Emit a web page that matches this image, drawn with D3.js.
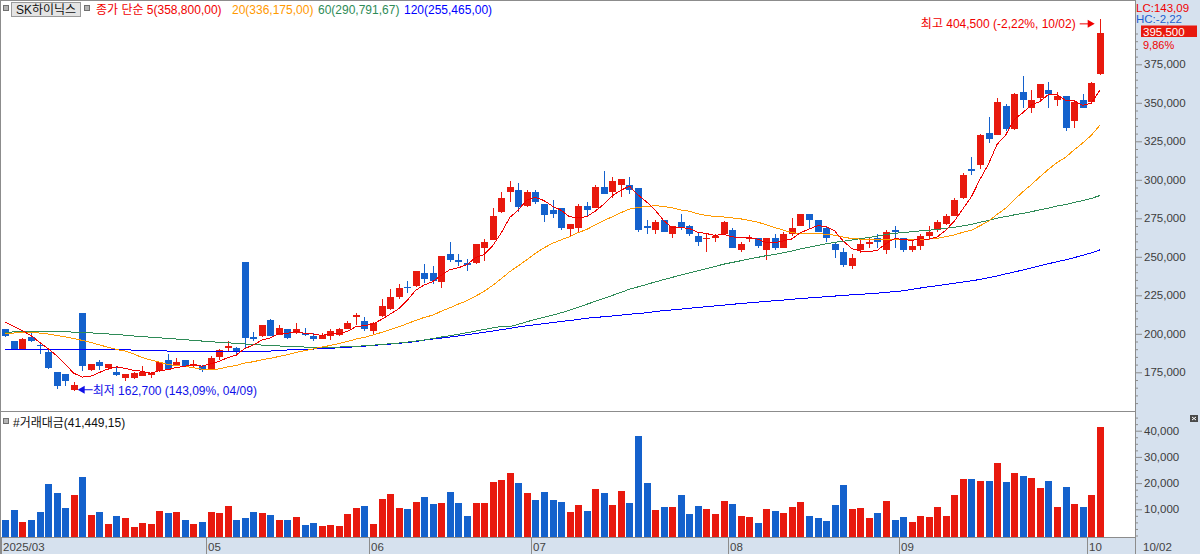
<!DOCTYPE html>
<html>
<head>
<meta charset="utf-8">
<script src="https://cdn.jsdelivr.net/npm/d3@7"></script>
<style>
  html, body { margin: 0; padding: 0; background: #fff; }
  svg { display: block; font-family: "Liberation Sans", "Noto Sans CJK KR", sans-serif; }
</style>
</head>
<body>
<svg id="chart"></svg>
<script>
// Daily candles, 2025/03/28 .. 2025/10/02 (129 trading days)
const opens = [
  202800,195200,190300,197600,193000,188100,174900,173600,163400,213800,
  176200,181800,177900,174900,171200,171400,172500,173600,175700,183300,
  179900,182700,179200,179400,177000,184800,190500,190900,246300,198200,
  198400,209100,199100,202800,200400,200800,198400,196500,198400,199400,
  203400,211700,208000,201500,211400,215800,223800,230700,230900,239200,
  239200,233500,252100,248200,245800,245800,255600,261200,278800,291900,
  293100,282900,292400,284000,280100,281400,267900,268600,282700,282000,
  295600,291800,296900,296900,294400,270300,267700,273600,265100,272900,
  270300,263800,261400,262100,264500,267700,254700,261400,261900,254700,
  261900,256000,265100,270300,277500,273600,269000,258600,253400,243900,
  254700,258000,261900,254100,267100,261900,254100,257300,263200,267100,
  271000,276800,287900,307300,309300,330100,329400,347600,332700,356700,
  346300,353400,358600,352100,354100,337900,351500,350800,368400
];
const highs = [
  203000,195600,197400,201000,193200,189200,174900,173600,169000,213800,
  180500,183300,180700,178300,174200,175100,179400,174900,182000,186600,
  184000,183300,183300,179600,185300,190000,195200,191300,246300,201000,
  206000,209300,206000,203200,207100,203900,200600,200400,202800,203600,
  208600,213800,210600,207500,222500,229400,232500,234000,240500,245600,
  244200,250800,259300,251500,248700,258000,261700,282000,292400,299500,
  298200,293700,293700,284200,286600,282000,271200,284000,285300,296300,
  306000,301500,300800,301500,295000,274200,273600,274200,270300,278100,
  270500,266400,264500,265100,273200,269000,259300,264000,262500,262100,
  265100,266400,275500,278100,277800,273800,269700,258800,256000,251500,
  260600,262500,264700,267100,269700,262100,260600,264500,270300,274200,
  278100,287900,304100,314500,329600,340500,353400,349500,356300,367100,
  358000,362500,363200,357300,354700,350400,356000,363200,404500
];
const lows = [
  197800,189400,190000,194400,187000,177300,164000,166400,162700,175700,
  175700,176200,176200,172700,169200,170800,172300,171400,175500,176200,
  179500,178300,177900,175100,176800,182700,188100,185700,190300,195600,
  198200,198500,198900,196800,200000,198400,195200,196300,196100,198400,
  203200,206000,201500,200000,211200,215600,222900,226200,230700,233100,
  232500,229600,246500,244200,240600,245600,247100,261000,278500,285300,
  279400,282600,284200,272900,275500,267700,263200,265300,276400,281800,
  290600,287900,288700,291100,266400,264900,265100,265800,262500,267700,
  263800,257300,252800,259300,264300,255400,252800,259300,255800,248200,
  254100,255800,263800,270000,269000,265800,259900,249500,243700,242400,
  252400,256000,256000,251500,255400,253400,253400,254700,261200,265800,
  270800,276200,287600,302800,307300,323600,329200,332000,332500,346900,
  343700,351500,346900,348200,331400,333900,346300,350500,368000
];
const closes = [
  198400,189600,196800,195600,192200,177900,166400,169200,166600,179400,
  180500,178800,180700,173400,174200,174400,175500,174400,182000,177000,
  181800,179400,180500,176200,184400,189800,191900,188300,197400,196500,
  205400,198700,203900,197100,202800,199100,196500,199400,201500,203400,
  206700,212100,202800,206900,218200,223600,229600,229600,240500,235300,
  234600,250200,247800,246500,245200,258000,259900,276200,287900,295600,
  282200,292400,285300,277000,277500,269000,271000,282700,280100,295600,
  291100,298900,300200,293700,267100,268400,272300,266400,269700,268400,
  265100,259900,262500,263200,272900,256000,258600,262500,257300,261900,
  255400,264500,269000,277500,273600,266400,261900,254700,244400,249500,
  258000,259900,259300,266400,265800,254700,257300,263800,265800,272900,
  276800,286600,303400,305400,329400,326800,350200,333300,356000,351500,
  351500,361900,356000,354700,333900,350200,346900,363000,395500
];
// 거래대금
const volumes = [
  5900,9700,5200,5900,9000,19700,16200,10500,15500,22300,
  7800,9000,4400,7400,6700,3200,4800,4400,9400,8600,
  9000,5900,4400,5200,9000,8600,11300,5900,6700,9000,
  8600,7800,5900,5900,7100,4000,4800,3600,4000,3600,
  8200,10500,11300,4400,13900,15800,10500,10100,12800,14700,
  12000,12400,16600,12400,7400,12400,12400,20400,21200,23900,
  20000,16200,13500,16600,13500,12800,9000,11600,9400,17700,
  16200,11600,17000,12400,38000,20000,9700,10900,10900,15500,
  8200,11300,10100,8200,13200,12000,7400,7100,4800,10100,
  9400,8600,10900,12800,7400,6700,5500,11600,19300,10100,
  10500,6700,8600,13200,5900,7100,5200,7400,7100,10900,
  7400,15500,21600,21600,20800,20800,27700,20400,23900,22700,
  21900,18100,20800,10900,18500,12000,10900,15500,41449.15
];

// Moving-average values before each window is full
const ma5Head = [207500, 204700, 202100, 198900];
const ma20Head = [
  200200,200500,200700,200700,200500,199900,198900,198000,197000,195700,
  194400,192800,191300,189800,188800,187000,184600,183000,181600
];
const ma60Head = [
  201000,201200,201300,201400,201400,201500,201400,201300,201100,200800,
  200600,200300,199900,199500,199100,198600,198200,197800,197400,197000,
  196600,196200,195700,195300,194900,194500,194200,193800,193400,193100,
  192700,192400,192100,191900,191600,191400,191400,191400,191400,191400,
  191600,191900,192200,192600,193100,193500,194000,194600,195300,196000,
  196900,197900,198800,199700,200700,201800,202800,203800,204700
];
const ma120Head = [
  190000,190000,190000,190000,190000,190000,190000,190000,190000,190000,
  190000,190000,190000,190000,190000,189200,189200,189200,189200,188800,
  188800,188800,188800,188800,188800,188800,188800,188800,188800,188800,
  188800,188800,189300,189500,189700,189800,190100,190300,190600,190900,
  191200,191600,192000,192400,192900,193300,193800,194300,194900,195900,
  196600,197200,197900,198600,199400,200200,201000,201800,202700,203500,
  204400,205200,205900,206600,207300,208000,208600,209300,210100,210600,
  211100,211600,212100,212700,213200,213600,214500,215000,215500,216000,
  216600,217100,217600,218100,218600,219100,219700,220100,220600,221000,
  221500,221900,222400,222900,223300,223700,224100,224500,224900,225300,
  225600,226000,226400,226900,227400,227900,228900,229700,230500,231200,
  232000,232800,233600,234400,235300,236400,237600,238900,240100
];

const maPeriods = [5, 20, 60, 120];
const maHeads = [ma5Head, ma20Head, ma60Head, ma120Head];
const maColors = ["#f00000", "#ff9900", "#2e8b57", "#0000ff"];
const maLabels = ["5(358,800,00)", "20(336,175,00)", "60(290,791,67)", "120(255,465,00)"];

const monthLabels = ["2025/03", "05", "06", "07", "08", "09", "10"];
const monthStarts = [0, 24, 43, 62, 85, 105, 127];

const priceTicks = [175000, 200000, 225000, 250000, 275000, 300000, 325000, 350000, 375000];
const volumeTicks = [10000, 20000, 30000, 40000];

const stockName = "SK하이닉스";
const volumeLabel = "#거래대금(41,449,15)";
const lastDateLabel = "10/02";
const highDateLabel = "10/02";
const lowDateLabel = "04/09";
const changeLabel = "9,86%";

// Layout
const width = 1200, height = 554;
const plotRight = 1135;
const sepY = 411;
const volBottom = 537;
const panelBg = "#d6e1ee";
const lineGray = "#8c8c8c";
const upColor = "#e8190e", downColor = "#1461cc";
const n = closes.length;

const x = d3.scaleLinear().domain([0, n - 1]).range([5.3, 1099.7]);
const y = d3.scaleLinear().domain([175000, 375000]).range([372.3, 64.3]);
const yv = d3.scaleLinear().domain([0, 40000]).range([535.5, 430.7]);

const fmt = d3.format(",");
const pct = v => v.toFixed(2).replace(".", ",");
const up = i => closes[i] >= opens[i];
const colorOf = i => up(i) ? upColor : downColor;

function movingAverage(period, head) {
  return closes.map((c, i) => i < period - 1 ? head[i] : d3.mean(closes.slice(i - period + 1, i + 1)));
}

const svg = d3.select("#chart")
  .attr("width", width)
  .attr("height", height)
  .attr("viewBox", [0, 0, width, height]);

// Backgrounds
svg.append("rect").attr("width", width).attr("height", height).attr("fill", "#fff");
svg.append("rect").attr("x", plotRight).attr("y", 0).attr("width", width - plotRight).attr("height", height).attr("fill", panelBg);
svg.append("rect").attr("x", 0).attr("y", volBottom).attr("width", width).attr("height", height - volBottom).attr("fill", panelBg);

// Frame lines
const frame = svg.append("g").attr("stroke", lineGray).attr("shape-rendering", "crispEdges");
frame.append("line").attr("x1", 0).attr("x2", plotRight).attr("y1", 0.5).attr("y2", 0.5);
frame.append("line").attr("x1", 0.5).attr("x2", 0.5).attr("y1", 0).attr("y2", height);
frame.append("line").attr("x1", 0).attr("x2", plotRight).attr("y1", sepY + 0.5).attr("y2", sepY + 0.5);
frame.append("line").attr("x1", 0).attr("x2", plotRight).attr("y1", volBottom + 0.5).attr("y2", volBottom + 0.5);
frame.append("line").attr("x1", plotRight + 0.5).attr("x2", plotRight + 0.5).attr("y1", 0).attr("y2", height);

// Candles
const candles = svg.append("g").attr("shape-rendering", "crispEdges")
  .selectAll("g").data(d3.range(n)).join("g");
candles.append("line")
  .attr("x1", i => Math.round(x(i)) + 0.5)
  .attr("x2", i => Math.round(x(i)) + 0.5)
  .attr("y1", i => y(highs[i]))
  .attr("y2", i => y(lows[i]))
  .attr("stroke", colorOf);
candles.append("rect")
  .attr("x", i => Math.round(x(i)) - 3)
  .attr("width", 7)
  .attr("y", i => y(Math.max(opens[i], closes[i])))
  .attr("height", i => Math.max(1.5, Math.abs(y(opens[i]) - y(closes[i]))))
  .attr("fill", colorOf);

// Moving averages
const line = d3.line().x((d, i) => x(i)).y(d => y(d));
[3, 2, 1, 0].forEach(k => {
  svg.append("path")
    .attr("d", line(movingAverage(maPeriods[k], maHeads[k])))
    .attr("fill", "none")
    .attr("stroke", maColors[k])
    .attr("stroke-width", 1)
    .attr("shape-rendering", "crispEdges");
});

// Volume bars
svg.append("g").attr("shape-rendering", "crispEdges")
  .selectAll("rect").data(d3.range(n)).join("rect")
  .attr("x", i => Math.round(x(i)) - 3)
  .attr("width", 7)
  .attr("y", i => yv(volumes[i]))
  .attr("height", i => volBottom - yv(volumes[i]))
  .attr("fill", colorOf);

// Price axis
const minorPrice = d3.range(155000, 415001, 5000).filter(v => v % 25000 !== 0 && y(v) > 30 && y(v) < sepY - 2);
svg.append("g")
  .attr("transform", `translate(${plotRight},0)`)
  .call(d3.axisRight(y).tickValues(minorPrice).tickSize(3).tickFormat(""))
  .call(g => g.select(".domain").remove())
  .call(g => g.selectAll("line").attr("stroke", lineGray));
svg.append("g")
  .attr("transform", `translate(${plotRight},0)`)
  .call(d3.axisRight(y).tickValues(priceTicks).tickSize(7).tickPadding(2).tickFormat(fmt))
  .call(g => g.select(".domain").remove())
  .call(g => g.selectAll("line").attr("stroke", lineGray))
  .call(g => g.selectAll("text").attr("fill", "#3c3c3c").attr("font-size", 11.5)
    .attr("font-family", "Liberation Sans, sans-serif"));

// Volume axis
const minorVol = d3.range(0, 45001, 2500).filter(v => v % 10000 !== 0 || v === 0);
svg.append("g")
  .attr("transform", `translate(${plotRight},0)`)
  .call(d3.axisRight(yv).tickValues(minorVol).tickSize(3).tickFormat(""))
  .call(g => g.select(".domain").remove())
  .call(g => g.selectAll("line").attr("stroke", lineGray));
svg.append("g")
  .attr("transform", `translate(${plotRight},0)`)
  .call(d3.axisRight(yv).tickValues(volumeTicks).tickSize(7).tickPadding(2).tickFormat(fmt))
  .call(g => g.select(".domain").remove())
  .call(g => g.selectAll("line").attr("stroke", lineGray))
  .call(g => g.selectAll("text").attr("fill", "#3c3c3c").attr("font-size", 11.5)
    .attr("font-family", "Liberation Sans, sans-serif"));

// Date strip
const months = svg.append("g");
monthStarts.forEach((s, k) => {
  const sx = Math.round(x(s) - 4.3) + 0.5;
  months.append("line").attr("x1", sx).attr("x2", sx).attr("y1", volBottom).attr("y2", height)
    .attr("stroke", lineGray).attr("shape-rendering", "crispEdges");
  months.append("text").attr("x", sx + 1.5).attr("y", 551).attr("font-size", 11.5)
    .attr("fill", "#444").text(monthLabels[k]);
});
svg.append("text").attr("x", 1143).attr("y", 551).attr("font-size", 11.5).attr("fill", "#444").text(lastDateLabel);

// Header legend
function squareIcon(x0, y0) {
  svg.append("rect").attr("x", x0 + 0.5).attr("y", y0 + 0.5).attr("width", 5).attr("height", 5)
    .attr("fill", "#b4b4b4").attr("stroke", "#707070").attr("shape-rendering", "crispEdges");
}
squareIcon(3, 5);
svg.append("rect").attr("x", 11.5).attr("y", 2.5).attr("width", 69).attr("height", 14)
  .attr("fill", "#e4e4e4").attr("stroke", "#9a9a9a").attr("shape-rendering", "crispEdges");
svg.append("text").attr("x", 46).attr("y", 14).attr("text-anchor", "middle").attr("font-size", 12)
  .attr("fill", "#111").text(stockName);
squareIcon(84, 5);
const legendX = [96, 232, 318, 404];
maLabels.forEach((t, k) => {
  svg.append("text").attr("x", legendX[k]).attr("y", 14).attr("font-size", 12)
    .attr("fill", maColors[k]).text(k === 0 ? "종가 단순 " + t : t);
});

// Volume legend
squareIcon(3, 418);
svg.append("text").attr("x", 13).attr("y", 427).attr("font-size", 12).attr("fill", "#111").text(volumeLabel);

// Close icon in volume panel
svg.append("rect").attr("x", 1190).attr("y", 415).attr("width", 8).attr("height", 7).attr("fill", "#4a4a4a");
svg.append("path").attr("d", "M1192,417L1196,420M1196,417L1192,420").attr("stroke", "#fff").attr("stroke-width", 1);

// High / low annotations
const hi = d3.maxIndex(highs), lo = d3.minIndex(lows);
const last = closes[n - 1];
const hiPct = (last - highs[hi]) / highs[hi] * 100;
const loPct = (last - lows[lo]) / lows[lo] * 100;

const hy = y(highs[hi]) + 5, hx = x(hi) - 5;
svg.append("line").attr("x1", hx - 15).attr("x2", hx - 5).attr("y1", hy).attr("y2", hy).attr("stroke", "#f00000");
svg.append("path").attr("d", `M${hx},${hy}L${hx - 7},${hy - 4}L${hx - 7},${hy + 4}Z`).attr("fill", "#f00000");
svg.append("text").attr("x", x(hi) - 24).attr("y", y(highs[hi]) + 9).attr("text-anchor", "end")
  .attr("font-size", 12).attr("fill", "#f00000")
  .text(`최고 ${fmt(highs[hi])} (${pct(hiPct)}%, ${highDateLabel})`);

const ly = y(lows[lo]) - 1.5, lx = x(lo) + 4;
svg.append("line").attr("x1", lx + 5).attr("x2", lx + 15).attr("y1", ly).attr("y2", ly).attr("stroke", "#1010e8");
svg.append("path").attr("d", `M${lx},${ly}L${lx + 7},${ly - 4}L${lx + 7},${ly + 4}Z`).attr("fill", "#1010e8");
svg.append("text").attr("x", x(lo) + 19).attr("y", y(lows[lo]) + 4)
  .attr("font-size", 12).attr("fill", "#1010e8")
  .text(`최저 ${fmt(lows[lo])} (${pct(loPct)}%, ${lowDateLabel})`);

// Right panel status labels
svg.append("text").attr("x", 1136).attr("y", 11.5).attr("font-size", 11.5).attr("fill", "#f00000").text(`LC:${pct(loPct)}`);
svg.append("text").attr("x", 1136).attr("y", 23).attr("font-size", 11.5).attr("fill", "#1e5fd0").text(`HC:${pct(hiPct)}`);
svg.append("rect").attr("x", 1141).attr("y", 25.5).attr("width", 56).attr("height", 11.5).attr("fill", upColor);
svg.append("text").attr("x", 1143).attr("y", 35.5).attr("font-size", 11.5).attr("fill", "#fff").text(fmt(last));
svg.append("text").attr("x", 1143).attr("y", 48.5).attr("font-size", 11).attr("fill", "#f00000").text(changeLabel);
</script>
</body>
</html>
